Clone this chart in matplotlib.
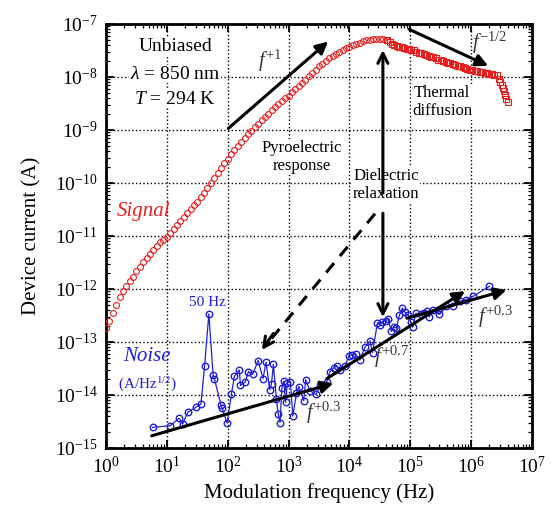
import numpy as np
import matplotlib
matplotlib.use('Agg')
import matplotlib.pyplot as plt
from matplotlib.ticker import LogLocator, NullFormatter

plt.rcParams['font.family'] = ['Liberation Serif', 'DejaVu Serif']
plt.rcParams['mathtext.fontset'] = 'custom'
plt.rcParams['mathtext.rm'] = 'Liberation Serif'
plt.rcParams['mathtext.it'] = 'Liberation Serif:italic'
plt.rcParams['mathtext.bf'] = 'Liberation Serif:bold'
plt.rcParams['axes.unicode_minus'] = False

# signal, lock-in sweep (circles) -- log10(f / Hz), log10(I / A)
sig_logf = [0.000, 0.056, 0.111, 0.167, 0.222, 0.278, 0.333, 0.389, 0.444, 0.500, 0.556, 0.611, 0.667, 0.722, 0.778, 0.833, 0.889, 0.944,
            1.000, 1.056, 1.111, 1.167, 1.222, 1.278, 1.333, 1.389, 1.444, 1.500, 1.556, 1.611, 1.667, 1.722, 1.778, 1.833, 1.889, 1.944,
            2.000, 2.056, 2.111, 2.167, 2.222, 2.278, 2.333, 2.389, 2.444, 2.500, 2.556, 2.611, 2.667, 2.722, 2.778, 2.833, 2.889, 2.944,
            3.000, 3.056, 3.111, 3.167, 3.222, 3.278, 3.333, 3.389, 3.444, 3.500, 3.556, 3.611, 3.667, 3.722, 3.778, 3.833, 3.889, 3.944,
            4.000, 4.056, 4.111, 4.167, 4.222, 4.278, 4.333, 4.389, 4.444, 4.500, 4.556, 4.611]
sig_logI = [-12.74, -12.60, -12.45, -12.30, -12.15, -12.03, -11.94, -11.85, -11.77, -11.66, -11.58, -11.50, -11.41, -11.34, -11.26, -11.19, -11.12, -11.07,
            -11.02, -10.95, -10.87, -10.80, -10.72, -10.64, -10.56, -10.49, -10.42, -10.35, -10.27, -10.18, -10.09, -10.00, -9.91, -9.81, -9.72, -9.62,
            -9.54, -9.46, -9.38, -9.30, -9.23, -9.15, -9.08, -9.01, -8.94, -8.88, -8.82, -8.76, -8.70, -8.63, -8.57, -8.51, -8.46, -8.40,
            -8.35, -8.29, -8.23, -8.17, -8.11, -8.05, -7.99, -7.93, -7.86, -7.80, -7.75, -7.70, -7.65, -7.60, -7.56, -7.52, -7.49, -7.46,
            -7.43, -7.40, -7.37, -7.35, -7.33, -7.31, -7.30, -7.29, -7.28, -7.28, -7.285, -7.30]

# signal, high-frequency sweep (squares)
hf_logf = [4.62, 4.66, 4.70, 4.74, 4.78, 4.82, 4.86, 4.90, 4.94, 4.98, 5.02, 5.06, 5.10, 5.14, 5.18, 5.22, 5.26, 5.30,
           5.34, 5.38, 5.42, 5.46, 5.50, 5.54, 5.58, 5.62, 5.66, 5.70, 5.74, 5.78, 5.82, 5.86, 5.90, 5.94, 5.98, 6.02,
           6.06, 6.10, 6.14, 6.18, 6.22, 6.26, 6.30, 6.34, 6.38, 6.42, 6.45, 6.48, 6.50, 6.52, 6.54, 6.56, 6.58, 6.60]
hf_logI = [-7.31, -7.34, -7.37, -7.40, -7.42, -7.43, -7.44, -7.45, -7.47, -7.48, -7.49, -7.50, -7.52, -7.54, -7.55, -7.57, -7.58, -7.60,
           -7.62, -7.63, -7.65, -7.67, -7.68, -7.70, -7.71, -7.73, -7.74, -7.76, -7.77, -7.79, -7.80, -7.82, -7.83, -7.84, -7.86, -7.87,
           -7.88, -7.89, -7.90, -7.91, -7.92, -7.93, -7.94, -7.95, -7.96, -7.97, -8.03, -8.09, -8.15, -8.21, -8.27, -8.34, -8.41, -8.47]

# noise spectral density
noise_logf = [0.765, 1.055, 1.20, 1.26, 1.34, 1.48, 1.56, 1.62, 1.69, 1.76, 1.78, 1.89, 1.91, 1.99,
              2.06, 2.11, 2.19, 2.21, 2.29, 2.34, 2.41, 2.50, 2.58, 2.63, 2.69, 2.72, 2.75, 2.80, 2.83, 2.86,
              2.89, 2.92, 2.95, 2.98, 3.03, 3.07, 3.13, 3.17, 3.25, 3.28, 3.35, 3.45, 3.52, 3.63, 3.68, 3.74,
              3.79, 3.85, 3.93, 3.99, 4.04, 4.10, 4.17, 4.26, 4.34, 4.38, 4.46, 4.50, 4.54, 4.60, 4.63, 4.69,
              4.73, 4.77, 4.82, 4.87, 4.91, 4.97, 5.01, 5.04, 5.09, 5.17, 5.23, 5.28, 5.31, 5.37, 5.45, 5.48,
              5.59, 5.70, 5.81, 5.92, 6.03, 6.30]
noise_logI = [-14.61, -14.58, -14.44, -14.55, -14.33, -14.23, -14.17, -13.45, -12.47, -13.62, -13.69, -14.19, -14.25, -14.53,
              -13.99, -13.65, -13.53, -13.82, -13.75, -13.56, -13.61, -13.35, -13.69, -13.38, -13.90, -13.79, -13.42, -14.08, -14.36, -14.52,
              -13.87, -13.74, -14.14, -13.77, -13.75, -14.40, -13.96, -13.84, -14.11, -13.71, -13.92, -13.99, -13.82, -13.75, -13.56, -13.49,
              -13.45, -13.52, -13.45, -13.26, -13.24, -13.23, -13.34, -13.09, -12.98, -13.20, -12.64, -12.67, -12.62, -12.60, -12.56, -12.80,
              -12.71, -12.74, -12.50, -12.36, -12.44, -12.50, -12.62, -12.72, -12.46, -12.48, -12.46, -12.42, -12.53, -12.39, -12.39, -12.48,
              -12.33, -12.33, -12.23, -12.20, -12.14, -11.95]

red = '#e61e1e'
blue = '#1f1fd6'

fig = plt.figure(figsize=(5.51, 5.16), dpi=100)
ax = fig.add_axes([0.1924, 0.1318, 0.7731, 0.8217])
ax.set_xscale('log')
ax.set_yscale('log')

ax.plot(10 ** np.array(sig_logf), 10 ** np.array(sig_logI), 'o', ls='none', mfc='none',
        mec=red, ms=4.2, mew=0.8, zorder=3)
ax.plot(10 ** np.array(hf_logf), 10 ** np.array(hf_logI), 's', ls='none', mfc='none',
        mec=red, ms=4.0, mew=0.8, zorder=3)
ax.plot(10 ** np.array(noise_logf), 10 ** np.array(noise_logI), '-o', color=blue, lw=0.9,
        mfc='none', mec=blue, ms=4.7, mew=1.0, zorder=3)

ax.set_xlim(1, 1e7)
ax.set_ylim(1e-15, 1e-7)

ax.xaxis.set_major_locator(LogLocator(base=10, numticks=20))
ax.yaxis.set_major_locator(LogLocator(base=10, numticks=20))
ax.xaxis.set_minor_locator(LogLocator(base=10, subs=np.arange(2, 10), numticks=100))
ax.yaxis.set_minor_locator(LogLocator(base=10, subs=np.arange(2, 10), numticks=100))
ax.xaxis.set_minor_formatter(NullFormatter())
ax.yaxis.set_minor_formatter(NullFormatter())
ax.tick_params(which='major', direction='in', length=6, width=1.3, top=True, right=True, labelsize=14, pad=6)
ax.tick_params(which='minor', direction='in', length=3, width=0.9, top=True, right=True)
for sp in ax.spines.values():
    sp.set_linewidth(2)
ax.grid(True, which='major', ls=':', color='k', lw=1.0)

ax.set_xlabel('Modulation frequency (Hz)', fontsize=15, labelpad=4)
ax.set_ylabel('Device current (A)', fontsize=15, labelpad=10)

# text labels (axes fraction); white box hides the grid behind them
wbox = dict(facecolor='white', edgecolor='none', pad=0.6)
ax.text(0.162, 0.946, 'Unbiased', transform=ax.transAxes, ha='center', va='center', fontsize=14, bbox=wbox)
ax.text(0.162, 0.882, r'$\lambda$ = 850 nm', transform=ax.transAxes, ha='center', va='center', fontsize=14, bbox=wbox)
ax.text(0.162, 0.823, r'$T$ = 294 K', transform=ax.transAxes, ha='center', va='center', fontsize=14, bbox=wbox)
ax.text(0.460, 0.686, 'Pyroelectric\nresponse', transform=ax.transAxes, ha='center', va='center',
        fontsize=12, linespacing=1.2, bbox=wbox)
ax.text(0.657, 0.620, 'Dielectric\nrelaxation', transform=ax.transAxes, ha='center', va='center',
        fontsize=12, linespacing=1.2, bbox=wbox)
ax.text(0.789, 0.816, 'Thermal\ndiffusion', transform=ax.transAxes, ha='center', va='center',
        fontsize=12, linespacing=1.2, bbox=wbox)
ax.text(0.087, 0.557, 'Signal', transform=ax.transAxes, ha='center', va='center', fontsize=15,
        style='italic', color=red)
ax.text(0.096, 0.215, 'Noise', transform=ax.transAxes, ha='center', va='center', fontsize=15,
        style='italic', color=blue)
ax.text(0.096, 0.149, r'(A/Hz$^{1/2}$)', transform=ax.transAxes, ha='center', va='center', fontsize=11,
        color=blue)
ax.text(0.239, 0.344, '50 Hz', transform=ax.transAxes, ha='center', va='center', fontsize=11, color=blue)

fc = '#3a3a3a'
ax.text(0.385, 0.912, r'$f^{+1}$', transform=ax.transAxes, ha='center', va='center', fontsize=15, color=fc)
ax.text(0.900, 0.955, r'$f^{-1/2}$', transform=ax.transAxes, ha='center', va='center', fontsize=15, color=fc)
ax.text(0.510, 0.083, r'$f^{+0.3}$', transform=ax.transAxes, ha='center', va='center', fontsize=15, color=fc)
ax.text(0.671, 0.215, r'$f^{+0.7}$', transform=ax.transAxes, ha='center', va='center', fontsize=15, color=fc)
ax.text(0.914, 0.310, r'$f^{+0.3}$', transform=ax.transAxes, ha='center', va='center', fontsize=15, color=fc)


def arrow(tail, head, style='-|>', **kw):
    ax.annotate('', xy=(10 ** head[0], 10 ** head[1]), xytext=(10 ** tail[0], 10 ** tail[1]),
                arrowprops=dict(arrowstyle=style, color='k', lw=2.2, mutation_scale=18,
                                shrinkA=0, shrinkB=0, **kw), zorder=4)


# trend arrows (log10 f, log10 I)
arrow((2.01, -8.97), (3.65, -7.33))
arrow((4.98, -7.10), (6.28, -7.79))
arrow((0.75, -14.77), (3.735, -13.78))
arrow((3.63, -13.69), (5.90, -12.04))
arrow((4.95, -12.55), (6.58, -12.02))
# dielectric relaxation pointers
arrow((4.55, -10.19), (4.55, -7.49), style='->')
arrow((4.55, -10.57), (4.55, -12.53), style='->')
ax.plot([10 ** 4.42, 10 ** 2.60], [10 ** -10.58, 10 ** -13.10], color='k', lw=2.2,
        ls=(0, (4, 3)), zorder=4)
arrow((2.75, -12.84), (2.56, -13.15), style='->')

plt.savefig('out.png', dpi=100)
plt.close()
